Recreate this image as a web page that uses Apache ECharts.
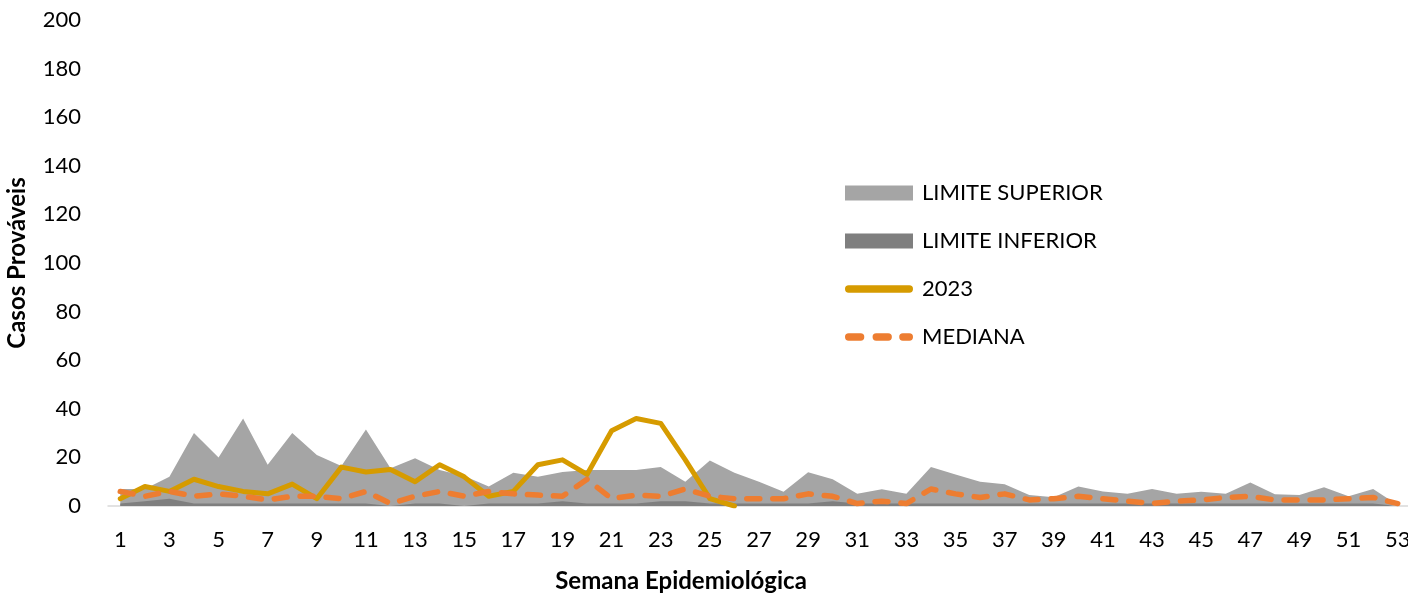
<!DOCTYPE html>
<html>
<head>
<meta charset="utf-8">
<script src="https://cdn.jsdelivr.net/npm/echarts@6/dist/echarts.min.js"></script>
<style>
  html, body { margin: 0; padding: 0; background: #fff; }
  #chart { width: 1408px; height: 595px; }
</style>
</head>
<body>
<div id="chart"></div>
<script>
// semanas epidemiológicas
const semanas = Array.from({ length: 53 }, (_, i) => String(i + 1))

const limiteSuperior = [7, 7, 12, 30, 20, 36, 17, 30, 21, 16.5, 31.5, 15.5, 19.6, 14.8, 12.3, 8, 13.7, 12, 14, 14.8,
    14.8, 14.8, 16, 10, 18.7, 13.7, 10, 5.9, 13.9, 11, 5, 6.9, 5, 16, 13, 10, 9, 4.5, 3.6, 8,
    6, 5, 7, 5, 5.9, 5, 9.7, 4.8, 4.5, 7.7, 4, 7, 0.4]

const limiteInferior = [1, 2, 3, 1, 1, 1, 1, 1, 1, 1, 1, 0, 1, 1, 0, 1, 1, 1, 2, 1,
    1, 1, 2, 2, 1, 1, 1, 1, 1, 2, 1, 1, 1, 1, 1, 1, 1, 1, 1, 1,
    1, 1, 1, 1, 1, 1, 1, 1, 1, 1, 1, 1, 0]

const casos2023 = [3, 8, 6, 11, 8, 6, 5, 9, 3, 16, 14, 15, 10, 17, 12, 4, 6, 17, 19, 13,
    31, 36, 34, 19, 3, 0]

const mediana = [6, 4, 6, 4, 5, 4, 2.5, 4, 4, 3, 6, 1, 4, 6, 4, 6, 5, 4.5, 4, 11,
    3, 4.5, 4, 7, 4, 3, 3, 3, 5, 4, 1, 2, 1, 7, 5, 3.5, 5, 2.5, 3, 4,
    3, 2, 1, 2, 2.5, 3.5, 4, 2.5, 2.5, 2.5, 3, 3.5, 1]

const fonte = 'Lato, "Open Sans", sans-serif'

// NOTE - icones da legenda (linha cheia / tracejada com pontas redondas)
const iconeLinha = 'path://M4,0 L70,0 A4,4 0 0 1 70,8 L4,8 A4,4 0 0 1 4,0 Z'
const iconeTracejado = 'path://M4,0 L17,0 A4,4 0 0 1 17,8 L4,8 A4,4 0 0 1 4,0 Z ' +
    'M34,0 L47,0 A4,4 0 0 1 47,8 L34,8 A4,4 0 0 1 34,0 Z ' +
    'M63,0 L70,0 A4,4 0 0 1 70,8 L63,8 A4,4 0 0 1 63,0 Z'

const myChart = echarts.init(document.querySelector('#chart'))
const option = {
    animation: false,
    textStyle: { fontFamily: fonte },
    grid: {
        left: 108,
        right: -2,
        top: 20,
        bottom: 89,
        containLabel: false,
        outerBoundsMode: 'none',
    },
    legend: {
        orient: 'vertical',
        left: 840,
        top: 177,
        padding: 5,
        itemWidth: 68,
        itemHeight: 15,
        itemGap: 26,
        symbolKeepAspect: true,
        textStyle: { fontSize: 22, color: '#000', fontFamily: fonte, padding: [0, 0, 0, 4] },
        data: [
            { name: 'LIMITE SUPERIOR', icon: 'rect' },
            { name: 'LIMITE INFERIOR', icon: 'rect' },
            { name: '2023', icon: iconeLinha },
            { name: 'MEDIANA', icon: iconeTracejado },
        ],
    },
    xAxis: {
        type: 'category',
        data: semanas,
        boundaryGap: true,
        name: 'Semana Epidemiológica',
        nameLocation: 'middle',
        nameGap: 63,
        nameTextStyle: {
            fontSize: 24, fontWeight: 'bold', color: '#000', fontFamily: fonte,
            padding: [0, 156, 0, 0],
        },
        axisLine: { lineStyle: { color: '#d9d9d9', width: 1.5 } },
        axisTick: { show: false },
        axisLabel: { interval: 1, fontSize: 22, color: '#000', margin: 23, fontFamily: fonte },
    },
    yAxis: {
        type: 'value',
        min: 0,
        max: 200,
        interval: 20,
        name: 'Casos Prováveis',
        nameLocation: 'middle',
        nameGap: 79,
        nameRotate: 90,
        nameTextStyle: { fontSize: 24, fontWeight: 'bold', color: '#000', fontFamily: fonte },
        axisLine: { show: false },
        axisTick: { show: false },
        splitLine: { show: false },
        axisLabel: { fontSize: 22, color: '#000', margin: 27, fontFamily: fonte },
    },
    series: [
        {
            name: 'LIMITE SUPERIOR',
            type: 'line',
            data: limiteSuperior,
            symbol: 'none',
            color: '#a5a5a5',
            lineStyle: { width: 0 },
            areaStyle: { color: '#a5a5a5', opacity: 1 },
        },
        {
            name: 'LIMITE INFERIOR',
            type: 'line',
            data: limiteInferior,
            symbol: 'none',
            color: '#7f7f7f',
            lineStyle: { width: 0 },
            areaStyle: { color: '#7f7f7f', opacity: 1 },
        },
        {
            name: '2023',
            type: 'line',
            data: casos2023,
            symbol: 'none',
            color: '#d69b00',
            lineStyle: { width: 5, color: '#d69b00', join: 'round', cap: 'round' },
        },
        {
            name: 'MEDIANA',
            type: 'line',
            data: mediana,
            symbol: 'none',
            color: '#ed7d31',
            lineStyle: { width: 5.5, color: '#ed7d31', type: [13, 13], cap: 'round', join: 'round' },
        },
    ],
}
myChart.setOption(option)
</script>
</body>
</html>
